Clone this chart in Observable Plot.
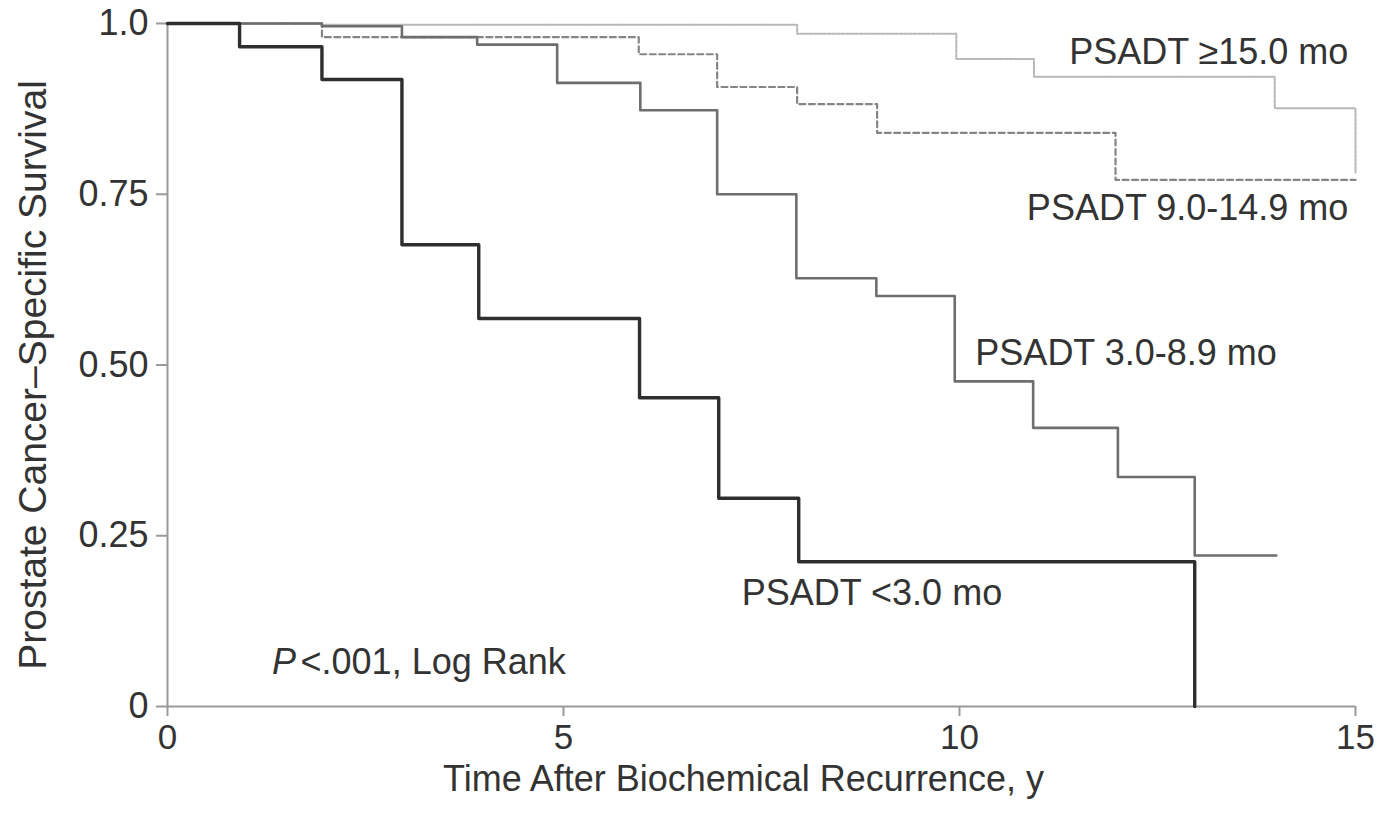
<!DOCTYPE html>
<html>
<head>
<meta charset="utf-8">
<script src="https://cdn.jsdelivr.net/npm/d3@7"></script>
<script src="https://cdn.jsdelivr.net/npm/@observablehq/plot@0.6"></script>
<style>
  html, body { margin: 0; padding: 0; background: #fff; }
</style>
</head>
<body>
<div id="chart"></div>
<script>
// Series names
const seriesNames = ["PSADT <3.0 mo", "PSADT 3.0-8.9 mo", "PSADT 9.0-14.9 mo", "PSADT ≥15.0 mo"];

// Kaplan-Meier steps (time in years, survival fraction)
const timeLt3   = [0, 0.91, 1.95, 2.96, 3.93, 5.96, 6.96, 7.97, 12.97];
const survLt3   = [1, 0.966, 0.918, 0.676, 0.568, 0.452, 0.305, 0.212, 0];

const time3to9  = [0, 1.95, 2.96, 3.91, 4.92, 5.97, 6.94, 7.94, 8.95, 9.94, 10.93, 12.0, 12.97, 14.0];
const surv3to9  = [1, 0.996, 0.98, 0.969, 0.913, 0.873, 0.75, 0.627, 0.601, 0.476, 0.408, 0.336, 0.221, 0.221];

const time9to15 = [0, 1.95, 5.95, 6.94, 7.95, 8.96, 11.97, 15.0];
const surv9to15 = [1, 0.98, 0.955, 0.907, 0.882, 0.84, 0.771, 0.771];

const timeGe15  = [0, 1.95, 7.95, 9.96, 10.94, 13.98, 15.0];
const survGe15  = [1, 0.998, 0.985, 0.948, 0.922, 0.876, 0.782];

// Axis ticks
const xTicks = [0, 5, 10, 15];
const xTickLabels = ["0", "5", "10", "15"];
const yTicks = [0, 0.25, 0.5, 0.75, 1];
const yTickLabels = ["0", "0.25", "0.50", "0.75", "1.0"];

const xTitle = "Time After Biochemical Recurrence, y";
const yTitle = "Prostate Cancer\u2013Specific Survival";
const pItalic = "P";
const pRest = "<.001, Log Rank";

const toRows = (ts, ss) => ts.map((t, i) => ({t, s: ss[i]}));

const font = "'Liberation Sans', Arial, Helvetica, sans-serif";
const txt = "#333";

const chart = Plot.plot({
  width: 1382,
  height: 819,
  marginLeft: 167,
  marginRight: 27,
  marginTop: 23,
  marginBottom: 113,
  style: {fontFamily: font, fontSize: "36px", color: txt, background: "#fff", overflow: "visible"},
  x: {domain: [0, 15]},
  y: {domain: [0, 1]},
  marks: [
    Plot.ruleX([0], {y1: 0, y2: 1, stroke: "#9a9a9a", strokeWidth: 2}),
    Plot.ruleY([0], {x1: 0, x2: 15, stroke: "#9a9a9a", strokeWidth: 2}),
    Plot.axisX({ticks: xTicks, tickSize: 10, tickPadding: 8, stroke: "#9a9a9a", strokeWidth: 2, fill: txt,
                label: null, fontSize: 35, tickFormat: d => xTickLabels[xTicks.indexOf(d)]}),
    Plot.axisY({ticks: yTicks, tickSize: 11, tickPadding: 8, stroke: "#9a9a9a", strokeWidth: 2, fill: txt,
                label: null, tickFormat: d => yTickLabels[yTicks.indexOf(d)]}),

    Plot.line(toRows(timeGe15, survGe15), {x: "t", y: "s", curve: "step-after",
      stroke: "#b8b8b8", strokeWidth: 2, strokeDasharray: "3,1.5"}),
    Plot.line(toRows(time9to15, surv9to15), {x: "t", y: "s", curve: "step-after",
      stroke: "#858585", strokeWidth: 2.2, strokeDasharray: "6,3.5"}),
    Plot.line(toRows(time3to9, surv3to9), {x: "t", y: "s", curve: "step-after",
      stroke: "#6e6e6e", strokeWidth: 2.6}),
    Plot.line(toRows(timeLt3, survLt3), {x: "t", y: "s", curve: "step-after",
      stroke: "#2e2e2e", strokeWidth: 3.4}),

    Plot.text([seriesNames[3]], {text: d => d, x: 14.91, y: 0.958, textAnchor: "end", lineAnchor: "middle", fill: txt, fontSize: 36}),
    Plot.text([seriesNames[2]], {text: d => d, x: 14.91, y: 0.7295, textAnchor: "end", lineAnchor: "middle", fill: txt, fontSize: 36}),
    Plot.text([seriesNames[1]], {text: d => d, x: 10.2, y: 0.5166, textAnchor: "start", lineAnchor: "middle", fill: txt, fontSize: 36}),
    Plot.text([seriesNames[0]], {text: d => d, x: 7.25, y: 0.166, textAnchor: "start", lineAnchor: "middle", fill: txt, fontSize: 36}),

    Plot.text([pItalic], {text: d => d, x: 1.32, y: 0.064, textAnchor: "start", lineAnchor: "middle", fill: txt, fontSize: 36, fontStyle: "italic"}),
    Plot.text([pRest], {text: d => d, x: 1.68, y: 0.064, textAnchor: "start", lineAnchor: "middle", fill: txt, fontSize: 36}),

    Plot.text([xTitle], {text: d => d, frameAnchor: "bottom", dx: -18, dy: 73, textAnchor: "middle", lineAnchor: "middle", fill: txt, fontSize: 36}),
    Plot.text([yTitle], {text: d => d, frameAnchor: "left", rotate: -90, dx: -134, dy: 10, textAnchor: "middle", lineAnchor: "middle", fill: txt, fontSize: 39})
  ]
});
document.getElementById("chart").appendChild(chart);
</script>
</body>
</html>
